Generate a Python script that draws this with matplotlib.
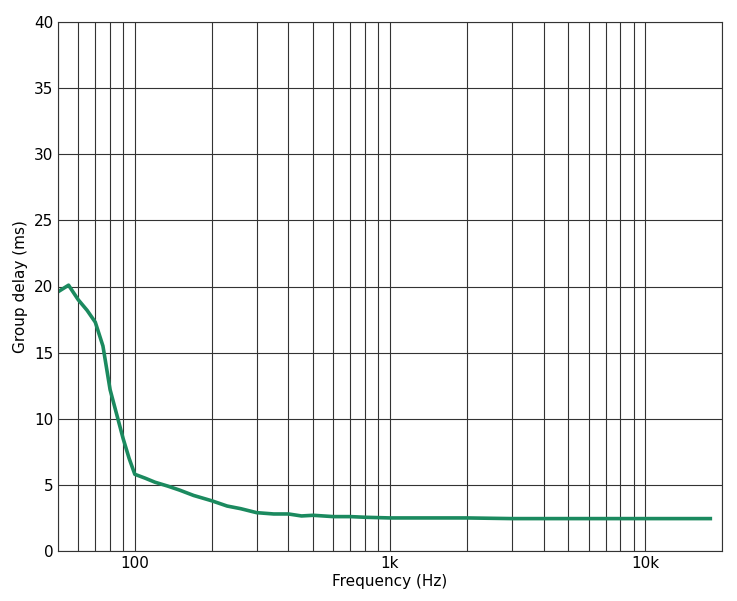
import numpy as np
import matplotlib
matplotlib.use("Agg")
import matplotlib.pyplot as plt
from matplotlib.ticker import FixedLocator, NullFormatter

freq = [50, 55, 60, 65, 70, 75, 80, 85, 90, 95, 100, 110, 120, 135, 150, 170, 200, 230, 260, 300, 350, 400, 450, 500, 600, 700, 800, 1000, 1500, 2000, 3000, 5000, 8000, 12000, 18000]
delay = [19.6, 20.1, 19.0, 18.2, 17.3, 15.5, 12.2, 10.3, 8.5, 7.0, 5.8, 5.5, 5.2, 4.9, 4.6, 4.2, 3.8, 3.4, 3.2, 2.9, 2.8, 2.8, 2.65, 2.7, 2.6, 2.6, 2.55, 2.5, 2.5, 2.5, 2.45, 2.45, 2.45, 2.45, 2.45]

fig = plt.figure(figsize=(7.37, 6.01), dpi=100)
ax = fig.add_axes([58/737, 50/601, 664/737, 529/601])
ax.plot(freq, delay, color="#1b8a5f", lw=2.6)
ax.set_xscale("log")
ax.set_xlim(50, 20000)
ax.set_ylim(0, 40)
ax.set_yticks(range(0, 41, 5))
grid = [f * d for d in (10, 100, 1000, 10000) for f in range(1, 10) if 50 <= f * d <= 20000]
ax.xaxis.set_major_locator(FixedLocator([100, 1000, 10000]))
ax.set_xticklabels(["100", "1k", "10k"])
ax.xaxis.set_minor_locator(FixedLocator(grid))
ax.xaxis.set_minor_formatter(NullFormatter())
ax.grid(True, which="both", axis="x", color="#333333", lw=0.8)
ax.grid(True, which="major", axis="y", color="#333333", lw=0.8)
ax.tick_params(which="both", length=0, labelsize=11)
ax.set_xlabel("Frequency (Hz)", fontsize=11, labelpad=2)
ax.set_ylabel("Group delay (ms)", fontsize=11)
for s in ax.spines.values():
    s.set_color("#333333")
fig.savefig("out.png", dpi=100)
